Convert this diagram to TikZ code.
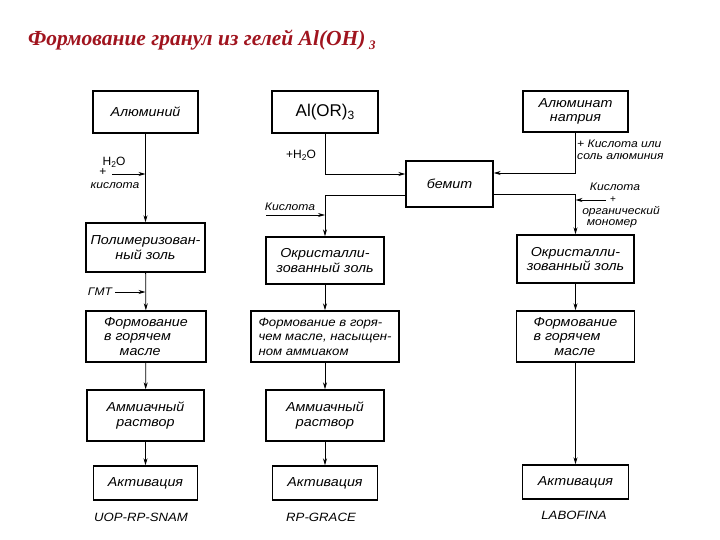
\documentclass[tikz,border=0pt]{standalone}
\usepackage{fontspec}
\setmainfont{Liberation Sans}
\newfontfamily\boxfont[FakeStretch=1.1]{Liberation Sans}
\newfontfamily\upfont{Liberation Sans}
\newfontfamily\titlefont{Liberation Serif}
\usetikzlibrary{arrows.meta}
\definecolor{titlered}{RGB}{160,20,30}
\newcommand{\lowsub}[1]{\raisebox{-0.35ex}{\scalebox{0.7}{#1}}}
\begin{document}
\begin{tikzpicture}[x=1pt,y=-1pt,
  box/.style={draw, line width=1.4pt, inner sep=0pt, align=center,
    font=\boxfont\itshape\fontsize{13}{14.5}\selectfont},
  lbl/.style={inner sep=0pt, font=\boxfont\itshape\fontsize{11}{12}\selectfont},
  uplbl/.style={inner sep=0pt, font=\upfont\fontsize{12}{13}\selectfont},
  arr/.style={-{Stealth[length=7pt,width=4pt]}, line width=0.8pt},
  ln/.style={line width=0.8pt}]
\useasboundingbox (0,0) rectangle (720,540);

\node[anchor=west, inner sep=0pt, text=titlered,
  font=\titlefont\bfseries\itshape\fontsize{21.5}{24}\selectfont] (title) at (28,40)
  {Формование гранул из гелей Al(OH)\,\raisebox{-0.45ex}{\fontsize{13}{14}\selectfont 3}};

% column 1
\node[box, minimum width=105, minimum height=42] (alu) at (145.5,112) {Алюминий};
\node[box, minimum width=119, minimum height=49] (poly) at (145.5,247.5) {Полимеризован-\\ный золь};
\node[box, minimum width=120, minimum height=51, align=left] (form1) at (146,336.5) {Формование\\в горячем\\\hspace{1.2em}масле};
\node[box, minimum width=117, minimum height=51] (amm1) at (145.5,415.5) {Аммиачный\\раствор};
\node[box, minimum width=104, minimum height=34] (act1) at (145.5,483) {Активация};
\node[lbl, font=\boxfont\itshape\fontsize{12}{13}\selectfont] (n1) at (141,517) {UOP-RP-SNAM};

% column 2
\node[box, minimum width=106, minimum height=42, font=\upfont\fontsize{17}{18}\selectfont] (alor) at (325,112) {Al(OR)\raisebox{-0.4ex}{\fontsize{12}{13}\selectfont 3}};
\node[box, minimum width=118, minimum height=47] (okr2) at (325,260.5) {Окристалли-\\зованный золь};
\node[box, minimum width=148, minimum height=51, align=left,
  font=\boxfont\itshape\fontsize{12}{14.5}\selectfont] (form2) at (325,336.5) {Формование в горя-\\чем масле, насыщен-\\ном аммиаком};
\node[box, minimum width=118, minimum height=51] (amm2) at (325,415.5) {Аммиачный\\раствор};
\node[box, minimum width=105, minimum height=34] (act2) at (325,483) {Активация};
\node[lbl, font=\boxfont\itshape\fontsize{12}{13}\selectfont] (n2) at (321,517) {RP-GRACE};

% boehmite
\node[box, minimum width=87, minimum height=46] (bem) at (449.5,184) {бемит};

% column 3
\node[box, minimum width=105, minimum height=41] (alnat) at (575.5,111.5) {Алюминат\\натрия};
\node[box, minimum width=117, minimum height=48] (okr3) at (575.5,259) {Окристалли-\\зованный золь};
\node[box, minimum width=118, minimum height=51, align=left] (form3) at (575.5,336.5) {Формование\\в горячем\\\hspace{1.6em}масле};
\node[box, minimum width=106, minimum height=34] (act3) at (575.5,482) {Активация};
\node[lbl, font=\boxfont\itshape\fontsize{12}{13}\selectfont] (n3) at (574,515) {LABOFINA};

% vertical arrows
\draw[arr] (alu) -- (poly);
\draw[arr] (poly) -- (form1);
\draw[arr] (form1) -- (amm1);
\draw[arr] (amm1) -- (act1);
\draw[arr] (okr2) -- (form2);
\draw[arr] (form2) -- (amm2);
\draw[arr] (amm2) -- (act2);
\draw[arr] (okr3) -- (form3);
\draw[arr] (form3) -- (act3);

% boehmite connections
\draw[arr] (alor.south) |- ([yshift=10pt]bem.west);
\draw[arr] ([yshift=-11pt]bem.west) -| (okr2.north);
\draw[arr] (alnat.south) |- ([yshift=11pt]bem.east);
\draw[arr] ([yshift=-10pt]bem.east) -| (okr3.north);

% side inputs
\coordinate (s1) at (112,174);
\coordinate (s2) at (115,292);
\coordinate (s3) at (266,215);
\coordinate (s4) at (606,200);
\draw[arr] (s1) -- (s1 -| alu.south);
\draw[arr] (s2) -- (s2 -| poly.south);
\draw[arr] (s3) -- (s3 -| okr2.north);
\draw[arr] (s4) -- (s4 -| okr3.north);

% labels
\node[uplbl] (h2o1) at (114,162) {H\lowsub{2}O};
\node[uplbl] (pl1) at (103,172) {+};
\node[lbl] (ac1) at (115,186) {кислота};
\node[lbl] (gmt) at (100,292) {ГМТ};
\node[uplbl] (h2o2) at (301,155) {+H\lowsub{2}O};
\node[lbl] (ac2) at (290,207) {Кислота};
\node[lbl, anchor=west, align=left] (ac3) at (577,150) {+ Кислота или\\соль алюминия};
\node[lbl] (ac4) at (615,187) {Кислота};
\node[uplbl, font=\upfont\fontsize{10}{11}\selectfont] (pl4) at (613,200) {+};
\node[lbl] (org) at (621,212) {органический};
\node[lbl] (mon) at (612,224) {мономер};
\end{tikzpicture}
\end{document}
